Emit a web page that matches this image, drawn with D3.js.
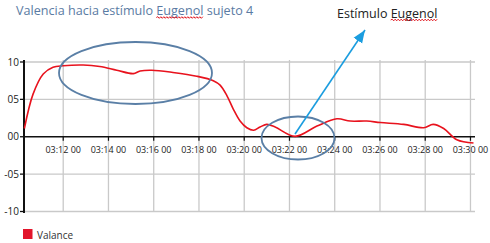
<!DOCTYPE html>
<html>
<head>
<meta charset="utf-8">
<script src="https://cdn.jsdelivr.net/npm/d3@7"></script>
<style>
  body { margin: 0; background: #fff; }
  svg { font-family: "Open Sans", "Noto Sans", sans-serif; }
</style>
</head>
<body>
<div id="chart"></div>
<script>
// valence readings (time of day, value)
var times = ["03:10:17", "03:10:40", "03:11:07", "03:11:33", "03:12:00", "03:12:53", "03:13:37",
             "03:14:22", "03:15:06", "03:15:24", "03:15:55", "03:16:51", "03:17:54", "03:18:38",
             "03:18:56", "03:19:14", "03:19:31", "03:19:49", "03:20:07", "03:20:25", "03:20:42",
             "03:21:00", "03:21:22", "03:22:15", "03:23:13", "03:24:06", "03:24:41", "03:25:25",
             "03:26:01", "03:27:03", "03:27:56", "03:28:21", "03:28:49", "03:29:24", "03:30:08"];
var valance = [1.1, 5.7, 8.4, 9.3, 9.5, 9.6, 9.4,
               8.9, 8.45, 8.8, 8.9, 8.6, 8.1, 7.5,
               6.9, 5.5, 3.7, 2.1, 1.2, 0.87, 1.3,
               1.65, 1.3, 0.05, 1.43, 2.4, 2.1, 2.1,
               1.9, 1.65, 1.2, 1.65, 1.1, -0.4, -0.84];
var yTicks = [10, 5, 0, -5, -10];
var yTickLabels = ["10", "05", "00", "-05", "-10"];
var timeStart = "03:10:16", timeEnd = "03:30:12";

var width = 490,
    height = 243;

var parseTime = d3.timeParse("%H:%M:%S");
var data = times.map(function (t, i) { return { t: parseTime(t), v: valance[i] }; });

var svg = d3.select("#chart")
            .append("svg")
            .attr("width", width)
            .attr("height", height);

var x = d3.scaleTime()
          .domain([parseTime(timeStart), parseTime(timeEnd)])
          .range([24, 475]);

var y = d3.scaleLinear()
          .domain([-10, 10])
          .range([211.5, 62]);

var xTicks = x.ticks(d3.timeMinute.every(2));

// grid
svg.append("g").selectAll("line.hgrid")
   .data(yTicks.filter(function (d) { return d != 0; }))
   .enter()
   .append("line")
   .attr("x1", 24).attr("x2", 475)
   .attr("y1", function (d) { return y(d); })
   .attr("y2", function (d) { return y(d); })
   .attr("stroke", "#c9c9c9")
   .attr("stroke-width", 1.3);

svg.append("g").selectAll("line.vgrid")
   .data(xTicks)
   .enter()
   .append("line")
   .attr("x1", function (d) { return x(d); })
   .attr("x2", function (d) { return x(d); })
   .attr("y1", 60).attr("y2", 212)
   .attr("stroke", "#c9c9c9")
   .attr("stroke-width", 1.3);

// zero line + x ticks
svg.append("line")
   .attr("x1", 24).attr("x2", 475)
   .attr("y1", y(0)).attr("y2", y(0))
   .attr("stroke", "#111").attr("stroke-width", 1.6);

svg.append("g").selectAll("line.xtick")
   .data(xTicks)
   .enter()
   .append("line")
   .attr("x1", function (d) { return x(d); })
   .attr("x2", function (d) { return x(d); })
   .attr("y1", y(0)).attr("y2", y(0) + 4)
   .attr("stroke", "#111").attr("stroke-width", 1.2);

svg.append("g").selectAll("text.xlab")
   .data(xTicks)
   .enter()
   .append("text")
   .attr("x", function (d) { return x(d); })
   .attr("y", y(0) + 16)
   .attr("text-anchor", "middle")
   .attr("font-size", 9)
   .attr("fill", "#222")
   .text(d3.timeFormat("%H:%M %S"));

// y axis
svg.append("line")
   .attr("x1", 24).attr("x2", 24)
   .attr("y1", 60).attr("y2", 213)
   .attr("stroke", "#111").attr("stroke-width", 2);

svg.append("g").selectAll("line.ytick")
   .data(yTicks)
   .enter()
   .append("line")
   .attr("x1", 20).attr("x2", 24)
   .attr("y1", function (d) { return y(d); })
   .attr("y2", function (d) { return y(d); })
   .attr("stroke", "#111").attr("stroke-width", 1.3);

svg.append("g").selectAll("text.ylab")
   .data(yTicks)
   .enter()
   .append("text")
   .attr("x", 19)
   .attr("y", function (d) { return y(d) + 3.5; })
   .attr("text-anchor", "end")
   .attr("font-size", 10)
   .attr("fill", "#222")
   .text(function (d, i) { return yTickLabels[i]; });

// the valance line
var line = d3.line()
             .x(function (d) { return x(d.t); })
             .y(function (d) { return y(d.v); })
             .curve(d3.curveCatmullRom);

svg.append("path")
   .datum(data)
   .attr("d", line)
   .attr("fill", "none")
   .attr("stroke", "#e8121d")
   .attr("stroke-width", 1.6);

// annotations
svg.append("ellipse")
   .attr("cx", 135.5).attr("cy", 73)
   .attr("rx", 76.5).attr("ry", 31)
   .attr("fill", "none")
   .attr("stroke", "#5a7fa6").attr("stroke-width", 1.8);

svg.append("ellipse")
   .attr("cx", 298).attr("cy", 138)
   .attr("rx", 36.5).attr("ry", 21.5)
   .attr("fill", "none")
   .attr("stroke", "#5a7fa6").attr("stroke-width", 1.8);

svg.append("marker")
   .attr("id", "arrow-head")
   .attr("markerWidth", 8)
   .attr("markerHeight", 8)
   .attr("orient", "auto")
   .attr("refX", 5)
   .attr("refY", 0)
   .attr("viewBox", "-5 -5 10 10")
   .append("path")
   .attr("d", "M -5,-4 L 5,0 L -5,4 Z")
   .style("fill", "#1b9ddf");

svg.append("line")
   .attr("x1", 295).attr("y1", 134)
   .attr("x2", 365).attr("y2", 30)
   .attr("stroke", "#1b9ddf")
   .attr("stroke-width", 1.6)
   .attr("marker-end", "url(#arrow-head)");

// squiggly spell-check underline below a word of a text element
function squiggle(textSel, word, yy) {
  var node = textSel.node();
  var s = node.textContent;
  var i = s.indexOf(word);
  var x0 = node.getStartPositionOfChar(i).x;
  var x1 = x0 + node.getSubStringLength(i, word.length);
  var d = "M" + x0 + "," + yy;
  for (var xx = x0 + 1.5, k = 0; xx <= x1; xx += 1.5, k++) {
    d += " L" + xx + "," + (yy + (k % 2 == 0 ? -0.8 : 0.8));
  }
  svg.append("path")
     .attr("d", d)
     .attr("fill", "none").attr("stroke", "#e0141c").attr("stroke-width", 1);
}

var title = svg.append("text")
   .attr("x", 16).attr("y", 15)
   .attr("font-size", 12.6)
   .attr("fill", "#5a7ba3")
   .text("Valencia hacia estímulo Eugenol sujeto 4");
squiggle(title, "Eugenol", 17.5);

var note = svg.append("text")
   .attr("x", 337).attr("y", 18)
   .attr("font-size", 12.5)
   .attr("fill", "#222")
   .text("Estímulo Eugenol");
squiggle(note, "Eugenol", 20);

// legend
svg.append("rect")
   .attr("x", 23).attr("y", 229)
   .attr("width", 9.5).attr("height", 10)
   .attr("fill", "#e2152b");

svg.append("text")
   .attr("x", 37).attr("y", 238.5)
   .attr("font-size", 10)
   .attr("fill", "#333")
   .text("Valance");
</script>
</body>
</html>
